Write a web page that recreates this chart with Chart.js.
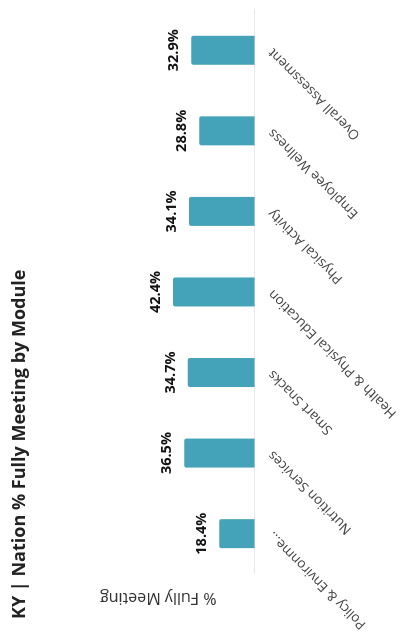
<!DOCTYPE html>
<html>
<head>
<meta charset="utf-8">
<script src="https://cdn.jsdelivr.net/npm/chart.js@4"></script>
<style>
  html, body { margin: 0; padding: 0; background: #fff; }
  body { width: 412px; height: 641px; overflow: hidden; position: relative; }
  /* the scanned chart lies on its side, so draw it upright and turn it */
  #wrap {
    position: absolute; left: 0; top: 641px;
    width: 641px; height: 412px;
    transform-origin: 0 0; transform: rotate(-90deg);
  }
</style>
</head>
<body>
<div id="wrap"><canvas id="chart" width="641" height="412"></canvas></div>
<script>
const categories = ["Policy & Environme...", "Nutrition Services", "Smart Snacks", "Health & Physical Education", "Physical Activity", "Employee Wellness", "Overall Assessment"];
const values = [18.4, 36.5, 34.7, 42.4, 34.1, 28.8, 32.9];

Chart.defaults.font.family = "'Open Sans', sans-serif";
Chart.defaults.color = "#333";

// value labels above each bar
const valueLabels = {
  id: "valueLabels",
  afterDatasetsDraw(chart) {
    const ctx = chart.ctx;
    const meta = chart.getDatasetMeta(0);
    ctx.save();
    ctx.font = "bold 14.5px 'Open Sans', sans-serif";
    ctx.fillStyle = "#111";
    ctx.textAlign = "center";
    ctx.textBaseline = "alphabetic";
    meta.data.forEach((bar, i) => {
      ctx.fillText(values[i].toFixed(1) + "%", bar.x, bar.y - 13);
    });
    ctx.restore();
  }
};

new Chart(document.getElementById("chart"), {
  type: "bar",
  data: {
    labels: categories,
    datasets: [{
      data: values,
      backgroundColor: "#45a3b9",
      borderRadius: 2,
      categoryPercentage: 0.8,
      barPercentage: 0.45
    }]
  },
  options: {
    responsive: false,
    animation: false,
    layout: { padding: { left: 22, right: 10, top: 0, bottom: 2 } },
    plugins: {
      legend: { display: false },
      tooltip: { enabled: false },
      title: {
        display: true,
        text: "KY | Nation % Fully Meeting by Module",
        align: "start",
        color: "#222",
        font: { size: 18, weight: "bold" },
        padding: { top: 9, bottom: 31 }
      }
    },
    scales: {
      x: {
        grid: { display: false, drawTicks: false },
        border: { color: "#e8e8e8" },
        ticks: {
          color: "#444",
          font: { size: 13.5 },
          minRotation: 45,
          maxRotation: 45,
          padding: 10,
          autoSkip: false
        }
      },
      y: {
        min: 0,
        max: 100,
        grid: { display: false, drawTicks: false },
        border: { display: false },
        ticks: { display: false },
        title: {
          display: true,
          text: "% Fully Meeting",
          color: "#333",
          font: { size: 16 },
          padding: { top: 4, bottom: 14 }
        }
      }
    }
  },
  plugins: [valueLabels]
});
</script>
</body>
</html>
